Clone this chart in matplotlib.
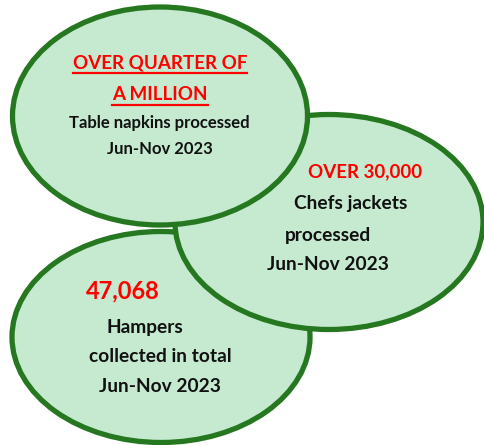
import matplotlib.pyplot as plt
from matplotlib.patches import Ellipse

# Ellipses: centre x, centre y, width, height (pixel space, y down)
bubble_names = ["bottom", "right", "top"]
bubble_cx = [161, 329, 160]
bubble_cy = [337, 222, 116]
bubble_w = [298, 308, 295]
bubble_h = [211, 215, 218]

# Text lines: text, x, y, colour, size, underline
lines_text = [
    "OVER QUARTER OF", "A MILLION", "Table napkins processed", "Jun-Nov 2023",
    "OVER 30,000", "Chefs jackets", "processed", "Jun-Nov 2023",
    "47,068", "Hampers", "collected in total", "Jun-Nov 2023",
]
lines_x = [160, 160, 159, 160, 365, 351, 328, 328, 123, 145, 160, 160]
lines_y = [63, 95, 123, 149, 172, 204, 235, 264, 291, 327, 357, 387]
lines_red = [True, True, False, False, True, False, False, False, True, False, False, False]
lines_size = [13.5, 13.5, 12, 12, 13.5, 13.8, 13.8, 13.8, 17, 13.8, 13.8, 13.8]
lines_under = [True, True] + [False] * 10

fig = plt.figure(figsize=(4.84, 4.45), dpi=100)
ax = fig.add_axes([0, 0, 1, 1])
ax.set_xlim(0, 484)
ax.set_ylim(445, 0)
ax.axis("off")

for cx, cy, w, h in zip(bubble_cx, bubble_cy, bubble_w, bubble_h):
    ax.add_patch(Ellipse((cx, cy), w, h, facecolor="#c5ead0", edgecolor="#25781f", linewidth=3.8))

for t, x, y, red, s, u in zip(lines_text, lines_x, lines_y, lines_red, lines_size, lines_under):
    txt = ax.text(x, y, t, ha="center", va="center", fontsize=s, fontweight="bold",
                  family="Lato", color="#ff0000" if red else "#111111", zorder=5)
    if u:
        fig.canvas.draw()
        bb = txt.get_window_extent().transformed(ax.transData.inverted())
        ax.plot([bb.x0, bb.x1], [y + 10, y + 10], color="#ff0000", lw=1.6, zorder=5)

fig.savefig("out.png", dpi=100)
